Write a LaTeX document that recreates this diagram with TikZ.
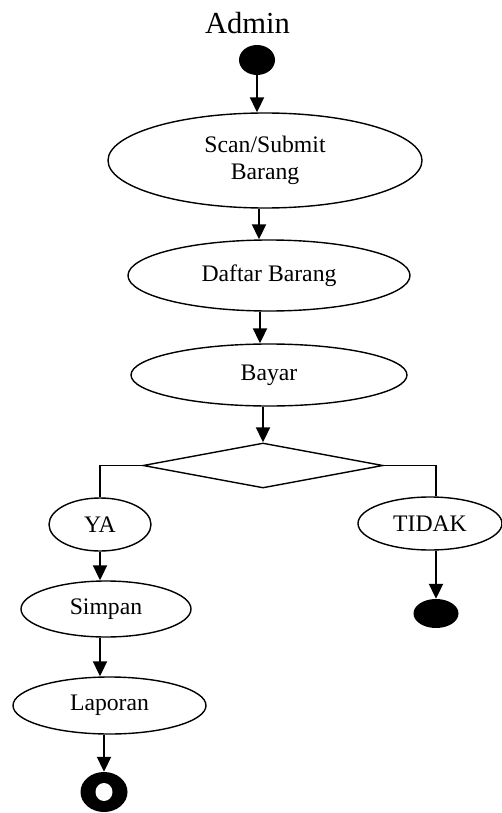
\documentclass[tikz,border=0pt]{standalone}
\usepackage{fontspec}
\setmainfont{Liberation Serif}
\usetikzlibrary{shapes.geometric,arrows.meta}
\begin{document}
\begin{tikzpicture}[x=1pt,y=-1pt,
  act/.style={ellipse,draw,line width=1.4pt,inner sep=0pt,align=center,
    font=\fontsize{23.7}{27}\selectfont},
  flow/.style={line width=2pt,-{Triangle[length=15pt,width=14pt]}},
  branch/.style={line width=1.4pt},
  startdot/.style={ellipse,fill=black,inner sep=0pt}]
\useasboundingbox (0,0) rectangle (501,813);

% title
\node[anchor=base,font=\fontsize{30.6}{34}\selectfont] (title) at (247.5,34) {Admin};

% initial node
\node[startdot,minimum width=36pt,minimum height=30pt] (start) at (257,60) {};

% main activities
\node[act,minimum width=314pt,minimum height=95pt] (scan) at (265,160.5) {Scan/Submit\\Barang};
\node[act,minimum width=282pt,minimum height=71pt] (daftar) at (269,275.5) {Daftar Barang};
\node[act,minimum width=276pt,minimum height=62pt] (bayar) at (269,375) {Bayar};

% decision
\node[diamond,draw,line width=1.4pt,inner sep=0pt,minimum width=240pt,minimum height=45pt] (dec) at (263,465.5) {};

% branches
\node[act,minimum width=102pt,minimum height=53pt] (ya) at (100,524.5) {YA};
\node[act,minimum width=144pt,minimum height=53pt] (tidak) at (430,523.5) {TIDAK};
\node[act,minimum width=170pt,minimum height=56pt] (simpan) at (106,609) {Simpan};
\node[act,minimum width=193pt,minimum height=57pt] (laporan) at (109.5,705.5) {Laporan};

% final nodes
\node[startdot,minimum width=45pt,minimum height=29pt] (stopB) at (436,613.5) {};
\node[startdot,minimum width=47pt,minimum height=40pt] (stopA) at (104,792) {};
\fill[white] (stopA.center) ellipse [x radius=8.5pt, y radius=9pt];

% connectors
\coordinate (s1) at (259,0);
\coordinate (s2) at (260,0);
\draw[flow] (start.south) -- (start.south |- scan.north);
\draw[flow] (scan.south -| s1) -- (daftar.north -| s1);
\draw[flow] (daftar.south -| s2) -- (bayar.north -| s2);
\draw[flow] (bayar.south -| dec.north) -- (dec.north);
\draw[branch] (dec.west) -- (dec.west -| ya.north) -- (ya.north);
\draw[branch] (dec.east) -- (dec.east -| stopB.north) -- (tidak.north -| stopB.north);
\draw[flow] (tidak.south -| stopB.north) -- (stopB.north);
\draw[flow] (ya.south) -- (ya.south |- simpan.north);
\draw[flow] (simpan.south -| ya.south) -- (laporan.north -| ya.south);
\draw[flow] (laporan.south -| stopA.north) -- (stopA.north);
\end{tikzpicture}
\end{document}
